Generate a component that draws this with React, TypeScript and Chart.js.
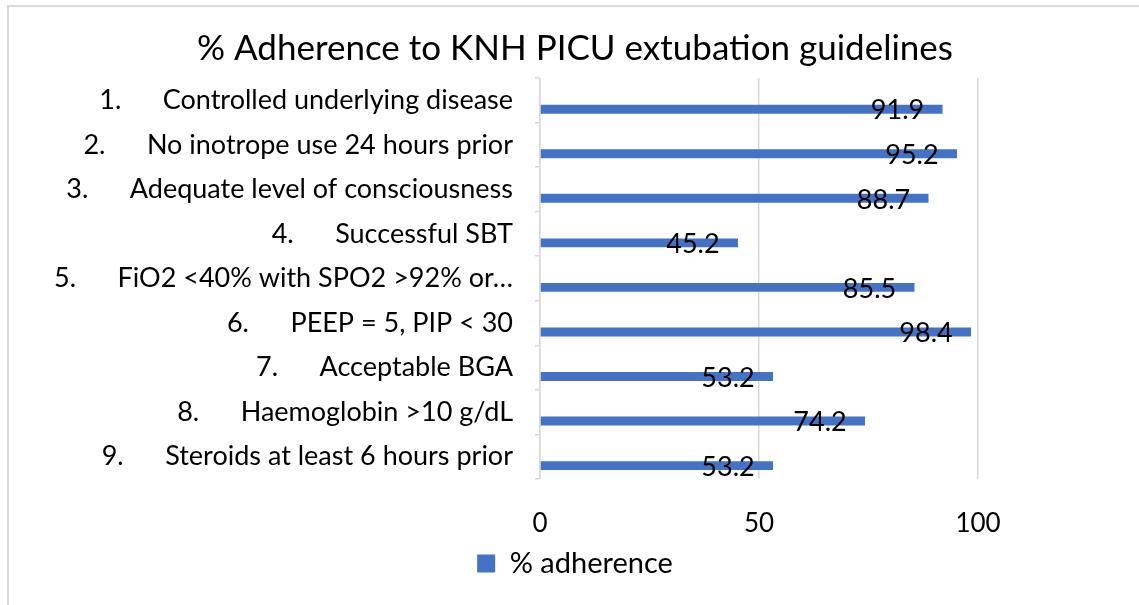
import React, { useEffect, useRef } from "react";
import { Chart, registerables } from "chart.js";

Chart.register(...registerables);

const TITLE = "% Adherence to KNH PICU extubation guidelines";
const SERIES_NAME = "% adherence";
const ITEM_NUMBERS = ["1.", "2.", "3.", "4.", "5.", "6.", "7.", "8.", "9."];
const CRITERIA = [
  "Controlled underlying disease",
  "No inotrope use 24 hours prior",
  "Adequate level of consciousness",
  "Successful SBT",
  "FiO2 <40% with SPO2 >92% or…",
  "PEEP = 5, PIP < 30",
  "Acceptable BGA",
  "Haemoglobin >10 g/dL",
  "Steroids at least 6 hours prior",
];
const ADHERENCE = [91.9, 95.2, 88.7, 45.2, 85.5, 98.4, 53.2, 74.2, 53.2];
const X_MIN = 0;
const X_MAX = 100;
const X_STEP = 50;

const FONT = "Lato";
const BAR_COLOR = "#4472C4";
const GRID_COLOR = "#d9d9d9";
const LABEL_GAP = "      ";

const valueLabelPlugin = {
  id: "valueLabels",
  afterDatasetsDraw(chart: any) {
    const meta = chart.getDatasetMeta(1);
    const values = chart.data.datasets[1].data;
    const ctx = chart.ctx;
    ctx.save();
    ctx.font = `27px ${FONT}`;
    ctx.fillStyle = "#000000";
    ctx.textAlign = "center";
    ctx.textBaseline = "middle";
    meta.data.forEach((bar: any, i: number) => {
      ctx.fillText(Number(values[i]).toFixed(1), bar.x - 45, bar.y + 1.5);
    });
    ctx.restore();
  },
};

export default function App() {
  const canvasRef = useRef<HTMLCanvasElement | null>(null);

  useEffect(() => {
    if (!canvasRef.current) return;
    const labels = CRITERIA.map((c, i) => `${ITEM_NUMBERS[i]}${LABEL_GAP}${c}`);
    const chart = new Chart(canvasRef.current, {
      type: "bar",
      data: {
        labels,
        datasets: [
          {
            label: "",
            data: CRITERIA.map(() => null),
            backgroundColor: BAR_COLOR,
          },
          {
            label: SERIES_NAME,
            data: ADHERENCE,
            backgroundColor: BAR_COLOR,
            borderWidth: 0,
          },
        ],
      },
      options: {
        indexAxis: "y",
        animation: false,
        responsive: true,
        maintainAspectRatio: false,
        datasets: {
          bar: { categoryPercentage: 0.8, barPercentage: 0.5 },
        },
        layout: { padding: { left: 50, right: 39, top: 0, bottom: 17 } },
        plugins: {
          title: {
            display: true,
            text: TITLE,
            color: "#000000",
            font: { family: FONT, size: 35, weight: "normal" },
            padding: { top: 28, bottom: 8 },
          },
          legend: {
            display: true,
            position: "bottom",
            labels: {
              color: "#000000",
              font: { family: FONT, size: 29 },
              boxWidth: 18,
              boxHeight: 18,
              padding: 10,
              filter: (item: any) => item.datasetIndex === 1,
            },
          },
          tooltip: { enabled: false },
        },
        scales: {
          x: {
            min: X_MIN,
            max: X_MAX,
            ticks: {
              stepSize: X_STEP,
              color: "#000000",
              font: { family: FONT, size: 26 },
              padding: 29,
            },
            grid: {
              color: GRID_COLOR,
              lineWidth: 1.5,
              drawTicks: false,
            },
            border: { display: false },
            afterFit: (scale: any) => {
              scale.height = 60;
            },
          },
          y: {
            ticks: {
              color: "#000000",
              font: { family: FONT, size: 27 },
              padding: 22,
              autoSkip: false,
            },
            grid: {
              display: true,
              drawOnChartArea: false,
              drawTicks: true,
              tickLength: 5,
              offset: true,
              color: GRID_COLOR,
              lineWidth: 1.5,
            },
            border: { display: true, color: GRID_COLOR, width: 1.5 },
            afterFit: (scale: any) => {
              scale.width = 490;
            },
          },
          yRight: {
            type: "category",
            position: "right",
            display: true,
            ticks: { display: false },
            grid: { display: false },
            border: { display: false },
            afterFit: (scale: any) => {
              scale.width = 122;
            },
          },
        },
      },
      plugins: [valueLabelPlugin],
    });
    return () => chart.destroy();
  }, []);

  return (
    <div
      style={{
        position: "fixed",
        left: 0,
        top: 0,
        width: 1139,
        height: 605,
        background: "#ffffff",
        overflow: "hidden",
      }}
    >
      <div
        style={{
          position: "absolute",
          left: 7,
          top: 5,
          width: 2000,
          height: 2000,
          borderTop: `2px solid ${GRID_COLOR}`,
          borderLeft: `2px solid ${GRID_COLOR}`,
        }}
      />
      <div style={{ position: "absolute", left: 0, top: 0, width: 1139, height: 605 }}>
        <canvas ref={canvasRef} />
      </div>
    </div>
  );
}
